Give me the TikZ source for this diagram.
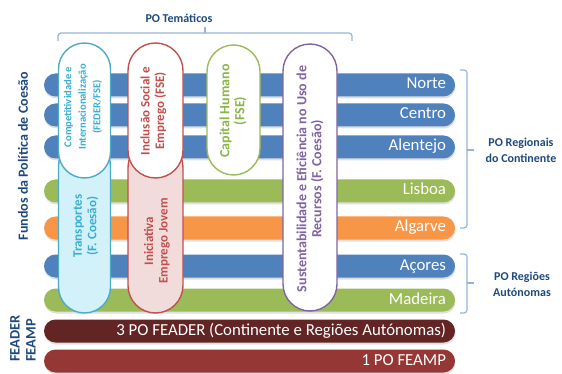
\documentclass[tikz,border=0pt]{standalone}
\usepackage{fontspec}
\setmainfont{Carlito}
\usetikzlibrary{shapes.misc,shadows,calc}
\definecolor{barBlue}{HTML}{4F81BD}
\definecolor{barGreen}{HTML}{9BBB59}
\definecolor{barOrange}{HTML}{F79646}
\definecolor{barFeader}{HTML}{632523}
\definecolor{barFeamp}{HTML}{953735}
\definecolor{titleBlue}{HTML}{1F497D}
\definecolor{braceBlue}{HTML}{95B3D7}
\definecolor{aquaLine}{HTML}{4BACC6}
\definecolor{aquaText}{HTML}{3AAED3}
\definecolor{aquaFill}{HTML}{D2F1F9}
\definecolor{redLine}{HTML}{C0504D}
\definecolor{pinkFill}{HTML}{F2DCDB}
\definecolor{greenLine}{HTML}{9BBB59}
\definecolor{greenText}{HTML}{8AB548}
\definecolor{purpleLine}{HTML}{8064A2}
\begin{document}
\begin{tikzpicture}[x=1pt,y=-1pt,
  bar/.style={rounded rectangle, minimum width=411pt, minimum height=23pt, inner sep=0pt,
    drop shadow={shadow xshift=0.5pt, shadow yshift=-2pt, opacity=0.25}},
  barlabel/.style={anchor=east, text=white, inner sep=0pt, text height=11.5pt, text depth=3.5pt,
    font=\fontsize{16.8}{19}\selectfont},
  pill/.style={rounded rectangle, rotate=90, line width=1.4pt, inner sep=0pt},
  pilltext/.style={rotate=90, align=center, inner sep=0pt, font=\bfseries\fontsize{13}{14.5}\selectfont},
  headtitle/.style={text=titleBlue, align=center, inner sep=0pt, font=\bfseries\fontsize{12}{16}\selectfont},
  bracket/.style={draw=braceBlue, line width=1.2pt, rounded corners=3pt}]
\useasboundingbox (0,0) rectangle (562,374);

% horizontal bars
\node[bar, fill=barBlue] (norte) at (249.5,85) {};
\node[bar, fill=barBlue] (centro) at (249.5,115) {};
\node[bar, fill=barBlue] (alentejo) at (249.5,147) {};
\node[bar, fill=barGreen] (lisboa) at (249.5,191) {};
\node[bar, fill=barOrange] (algarve) at (249.5,228) {};
\node[bar, fill=barBlue] (acores) at (249.5,266) {};
\node[bar, fill=barGreen] (madeira) at (249.5,300) {};
\node[bar, fill=barFeader] (feader) at (249.5,331) {};
\node[bar, fill=barFeamp] (feamp) at (249.5,361) {};

\node[barlabel] (tnorte) at ($(norte.east)+(-9,0)$) {Norte};
\node[barlabel] (tcentro) at ($(centro.east)+(-9,0)$) {Centro};
\node[barlabel] (talentejo) at ($(alentejo.east)+(-9,0)$) {Alentejo};
\node[barlabel] (tlisboa) at ($(lisboa.east)+(-9,0)$) {Lisboa};
\node[barlabel] (talgarve) at ($(algarve.east)+(-9,0)$) {Algarve};
\node[barlabel] (tacores) at ($(acores.east)+(-9,0)$) {Açores};
\node[barlabel] (tmadeira) at ($(madeira.east)+(-9,0)$) {Madeira};
\node[barlabel] (tfeader) at ($(feader.east)+(-9,0)$) {3 PO FEADER (Continente e Regiões Autónomas)};
\node[barlabel] (tfeamp) at ($(feamp.east)+(-9,0)$) {1 PO FEAMP};

% lower pills
\node[pill, draw=aquaLine, fill=aquaFill, minimum width=173pt, minimum height=52pt] (transp) at (84.5,226.5) {};
\node[pill, draw=redLine, fill=pinkFill, minimum width=173pt, minimum height=55pt] (iej) at (155.5,226.5) {};
\node[pilltext, text=aquaText] (ttransp) at (86,226) {Transportes\\(F. Coesão)};
\node[pilltext, text=redLine] (tiej) at (157,241) {Iniciativa\\Emprego Jovem};

% upper pills
\node[pill, draw=aquaLine, fill=white, minimum width=135pt, minimum height=52pt] (compet) at (84.5,110.5) {};
\node[pill, draw=redLine, fill=white, minimum width=135pt, minimum height=55pt] (incl) at (155.5,110.5) {};
\node[pill, draw=greenLine, fill=white, minimum width=130pt, minimum height=53pt] (capital) at (233.5,110) {};
\node[pill, draw=purpleLine, fill=white, minimum width=267pt, minimum height=54pt] (sust) at (310,177.5) {};

\node[pilltext, text=aquaText, font=\bfseries\fontsize{10.6}{14.5}\selectfont] (tcompet) at (83,107) {Competitividade e\\Internacionalização\\(FEDER/FSE)};
\node[pilltext, text=redLine] (tincl) at (153.5,111) {Inclusão Social e\\Emprego (FSE)};
\node[pilltext, text=greenText, font=\bfseries\fontsize{14}{15}\selectfont] (tcapital) at (233,111) {Capital Humano\\(FSE)};
\node[pilltext, text=purpleLine, font=\bfseries\fontsize{14}{15}\selectfont] (tsust) at (310,179) {Sustentabilidade e Eficiência no Uso de\\Recursos (F. Coesão)};

% titles
\node[headtitle] (tematicos) at (179,18) {PO Temáticos};
\node[headtitle] (regionais) at (521,150) {PO Regionais\\do Continente};
\node[headtitle] (autonomas) at (522,284) {PO Regiões\\Autónomas};
\node[headtitle, rotate=90, font=\bfseries\fontsize{14}{16}\selectfont] (fundos) at (23,156) {Fundos da Política de Coesão};
\node[headtitle, rotate=90, align=left, anchor=west, font=\bfseries\fontsize{14.5}{16}\selectfont] (feaderfeamp) at (23,362) {FEADER\\FEAMP};

% brackets
\draw[bracket] (58,41) -- (58,33) -- (352,33) -- (352,41);
\draw[bracket, rounded corners=0pt] (205,33) -- (205,27);
\draw[bracket] (460,70) -- (467,70) -- (467,228) -- (460,228);
\draw[bracket, rounded corners=0pt] (467,150) -- (474,150);
\draw[bracket] (460,254) -- (467,254) -- (467,313) -- (460,313);
\draw[bracket, rounded corners=0pt] (467,283) -- (474,283);
\end{tikzpicture}
\end{document}
